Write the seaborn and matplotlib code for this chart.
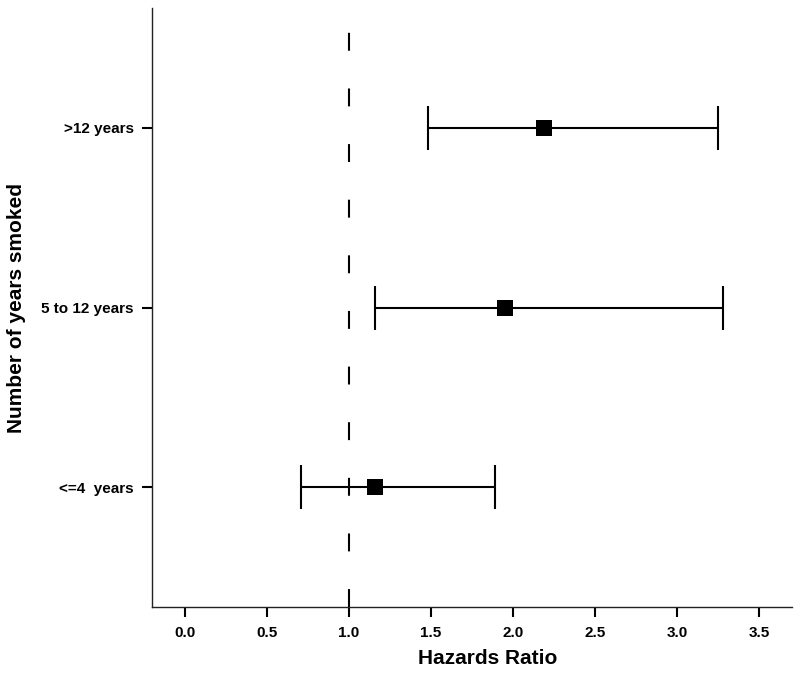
import matplotlib
matplotlib.use("Agg")
import matplotlib.pyplot as plt
import numpy as np
import pandas as pd
import seaborn as sns

# bottom to top
groups = ["<=4  years", "5 to 12 years", ">12 years"]
hazard_ratio = [1.16, 1.95, 2.19]
ci_low = [0.71, 1.16, 1.48]
ci_high = [1.89, 3.28, 3.25]

df = pd.DataFrame({"group": groups, "hr": hazard_ratio,
                   "lo": ci_low, "hi": ci_high})
df["pos"] = np.arange(len(df))

sns.set_style("ticks")
plt.rcParams["font.family"] = ["Liberation Sans", "DejaVu Sans"]
plt.rcParams["text.color"] = "black"
plt.rcParams["axes.labelcolor"] = "black"
plt.rcParams["xtick.color"] = "black"
plt.rcParams["ytick.color"] = "black"

fig = plt.figure(figsize=(8, 6.74), dpi=100)
ax = fig.add_axes([0.19, 0.0994, 0.80, 0.8887])

ax.axvline(1.0, color="black", lw=1.5, ls=(0, (8.6, 18.1)), zorder=1)

ax.errorbar(df["hr"], df["pos"],
            xerr=[df["hr"] - df["lo"], df["hi"] - df["hr"]],
            fmt="none", ecolor="black", elinewidth=1.5,
            capsize=16, capthick=1.5, zorder=2)
sns.scatterplot(data=df, x="hr", y="pos", marker="s", s=125,
                color="black", linewidth=0, ax=ax, zorder=3)

ax.set_xlim(-0.2, 3.7)
ax.set_ylim(-0.665, len(df) - 1 + 0.665)
ax.set_xticks(np.arange(0, 3.6, 0.5))
ax.set_xticklabels([f"{v:.1f}" for v in np.arange(0, 3.6, 0.5)])
ax.set_yticks(df["pos"])
ax.set_yticklabels(df["group"])

for lab in ax.get_xticklabels() + ax.get_yticklabels():
    lab.set_fontweight("bold")
    lab.set_fontsize(11)
ax.tick_params(axis="both", length=7, width=1.5, color="black")
ax.tick_params(axis="x", pad=7)
ax.tick_params(axis="y", pad=6)

ax.set_xlabel("Hazards Ratio", fontsize=15, fontweight="bold")
ax.set_ylabel("Number of years smoked", fontsize=15, fontweight="bold")
ax.xaxis.set_label_coords(0.524, -0.07)
ax.yaxis.set_label_coords(-0.197, 0.5)

sns.despine(ax=ax)
for sp in ["left", "bottom"]:
    ax.spines[sp].set_linewidth(1.0)
    ax.spines[sp].set_color("#222222")

fig.savefig("out.png", dpi=100)
